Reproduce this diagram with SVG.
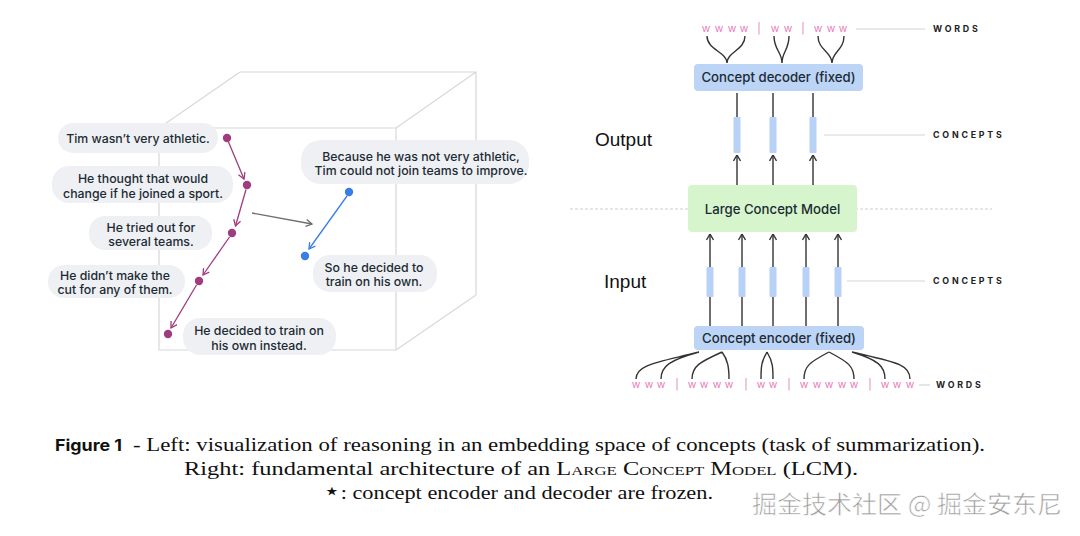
<svg xmlns="http://www.w3.org/2000/svg" width="1080" height="536" viewBox="0 0 1080 536">
<defs>
<style>
.cube{fill:none;stroke:#d8d8d8;stroke-width:1.2}
.bub{fill:#eef0f3}
.bt{font-family:Inter,"Noto Sans",sans-serif;font-size:12.3px;font-weight:500;fill:#1c2b33;text-anchor:middle}
.pa{stroke:#9e3c7e;stroke-width:1.3;fill:none;marker-end:url(#mp)}
.ba{stroke:#3a7de6;stroke-width:1.3;fill:none;marker-end:url(#mb)}
.ga{stroke:#6e6e6e;stroke-width:1.3;fill:none;marker-end:url(#mg)}
.pd{fill:#9e3c7e}
.bd{fill:#3a7de6}
.dk{stroke:#333;stroke-width:1.4;fill:none}
.da{stroke:#333;stroke-width:1.4;fill:none;marker-end:url(#md)}
.cb{fill:#b8d2f7}
.box{fill:#bcd4f6}
.lcm{fill:#d6f5cc}
.bx{font-family:Inter,"Noto Sans",sans-serif;font-size:13.2px;font-weight:500;fill:#1c2b33;text-anchor:middle}
.w{font-family:Inter,"Noto Sans",sans-serif;font-size:10.5px;fill:#e77ab8;text-anchor:middle}
.gl{stroke:#d4d4d4;stroke-width:1.2}
.lab{font-family:Inter,"Noto Sans",sans-serif;font-size:8.8px;font-weight:700;fill:#222;letter-spacing:2.8px}
.io{font-family:"Liberation Sans",Arial,sans-serif;font-size:19px;fill:#111}
.cap{font-family:"Liberation Serif","DejaVu Serif",serif;font-size:19px;fill:#111}
</style>
<marker id="mp" viewBox="0 0 8 8" refX="7" refY="4" markerWidth="8" markerHeight="8" markerUnits="userSpaceOnUse" orient="auto"><path d="M1,0.5 L7,4 L1,7.5" fill="none" stroke="#9e3c7e" stroke-width="1.3"/></marker>
<marker id="mb" viewBox="0 0 8 8" refX="7" refY="4" markerWidth="8" markerHeight="8" markerUnits="userSpaceOnUse" orient="auto"><path d="M1,0.5 L7,4 L1,7.5" fill="none" stroke="#3a7de6" stroke-width="1.3"/></marker>
<marker id="mg" viewBox="0 0 8 8" refX="7" refY="4" markerWidth="8" markerHeight="8" markerUnits="userSpaceOnUse" orient="auto"><path d="M1,0.5 L7,4 L1,7.5" fill="none" stroke="#6e6e6e" stroke-width="1.3"/></marker>
<marker id="md" viewBox="0 0 8 8" refX="7.5" refY="4" markerWidth="8" markerHeight="8" markerUnits="userSpaceOnUse" orient="auto"><path d="M1.5,0.5 L7.5,4 L1.5,7.5" fill="none" stroke="#333" stroke-width="1.4"/></marker>
</defs>
<rect width="1080" height="536" fill="#fff"/>

<g id="cube">
<path class="cube" d="M240,72 H476 V295 M159,128 L240,72 M396,128 L476,72 M396,350 L476,295 M159,128 H396 V350 H159 Z"/>
</g>

<g id="connectors">
<line class="pa" x1="228.5" y1="142" x2="244" y2="179"/>
<line class="pa" x1="246" y1="189.5" x2="235.5" y2="226"/>
<line class="pa" x1="229.5" y1="237" x2="203" y2="275"/>
<line class="pa" x1="196.5" y1="285" x2="171" y2="328"/>
<line class="ba" x1="347" y1="196" x2="309" y2="249"/>
<line class="ga" x1="252" y1="213" x2="312" y2="224"/>
</g>

<g id="s1"><rect class="bub" x="58" y="123" width="160" height="30" rx="15"/><text class="bt" x="138" y="142.5">Tim wasn’t very athletic.</text><circle class="pd" cx="227" cy="138" r="4.2"/></g>
<g id="s2"><rect class="bub" x="52" y="166" width="181" height="37" rx="17"/><text class="bt" x="143" y="182.5">He thought that would</text><text class="bt" x="143" y="197.5">change if he joined a sport.</text><circle class="pd" cx="247" cy="185" r="4.2"/></g>
<g id="s3"><rect class="bub" x="89" y="216" width="123" height="34" rx="16"/><text class="bt" x="151" y="231.5">He tried out for</text><text class="bt" x="151" y="245.5">several teams.</text><circle class="pd" cx="232" cy="233" r="4.2"/></g>
<g id="s4"><rect class="bub" x="48" y="265" width="137" height="33" rx="16"/><text class="bt" x="115" y="279.5">He didn’t make the</text><text class="bt" x="115" y="293.5">cut for any of them.</text><circle class="pd" cx="199" cy="281" r="4.2"/></g>
<g id="s5"><rect class="bub" x="183" y="318" width="153" height="37" rx="17"/><text class="bt" x="259" y="334.5">He decided to train on</text><text class="bt" x="259" y="349.5">his own instead.</text><circle class="pd" cx="168" cy="334" r="4.2"/></g>
<g id="s6"><rect class="bub" x="301" y="140" width="228" height="44" rx="20"/><text class="bt" x="421" y="160.5">Because he was not very athletic,</text><text class="bt" x="421" y="174.5">Tim could not join teams to improve.</text><circle class="bd" cx="349" cy="192" r="4.2"/></g>
<g id="s7"><rect class="bub" x="313" y="255" width="124" height="37" rx="17"/><text class="bt" x="374" y="271.5">So he decided to</text><text class="bt" x="374" y="285.5">train on his own.</text><circle class="bd" cx="305" cy="256" r="4.2"/></g>

<line x1="570" y1="209" x2="992" y2="209" stroke="#cfcfcf" stroke-width="1" stroke-dasharray="3,2"/>

<g id="arch-connectors">
<path class="dk" d="M707,36 C707,50 727,52 727,63 M745,36 C745,50 727,52 727,63 M774,36 C774,50 782,52 782,63 M789,36 C789,50 782,52 782,63 M818,36 C818,50 832,52 832,63 M844,36 C844,50 832,52 832,63"/>
<path class="dk" d="M737,93 V117 M773,93 V117 M813,93 V117"/>
<line class="da" x1="737" y1="185" x2="737" y2="155"/>
<line class="da" x1="773" y1="185" x2="773" y2="155"/>
<line class="da" x1="813" y1="185" x2="813" y2="155"/>
<line class="da" x1="710" y1="267" x2="710" y2="234"/>
<line class="da" x1="742" y1="267" x2="742" y2="234"/>
<line class="da" x1="773" y1="267" x2="773" y2="234"/>
<line class="da" x1="806" y1="267" x2="806" y2="234"/>
<line class="da" x1="838" y1="267" x2="838" y2="234"/>
<path class="dk" d="M710,297 V326 M742,297 V326 M773,297 V326 M806,297 V326 M838,297 V326"/>
<path class="dk" d="M699,352 C660,362 636,364 636,379 M699,352 C670,360 661,366 661,379 M722,352 C700,362 692,366 692,379 M722,352 C728,360 729,368 729,379 M767,352 C761,362 761,368 761,379 M767,352 C773,362 773,368 773,379 M829,352 C810,362 804,366 804,379 M829,352 C848,362 854,366 854,379 M852,352 C878,360 885,366 885,379 M852,352 C895,362 910,364 910,379"/>
<line class="gl" x1="856" y1="29" x2="925" y2="29"/>
<line class="gl" x1="824" y1="135" x2="925" y2="135"/>
<line class="gl" x1="847" y1="281" x2="925" y2="281"/>
<line class="gl" x1="919" y1="385" x2="930" y2="385"/>
</g>

<g id="words-top"><text class="w" x="706 719 732 744 759 775 788 803 818 831 843" y="32">wwww|ww|www</text><text class="lab" x="933" y="32">WORDS</text></g>
<g id="decoder"><rect class="box" x="694" y="64" width="169" height="27" rx="4"/><text class="bx" x="778.5" y="82">Concept decoder (fixed)</text></g>
<g id="concepts-out"><rect class="cb" x="733.5" y="117" width="7" height="36" rx="1"/><rect class="cb" x="769.5" y="117" width="7" height="36" rx="1"/><rect class="cb" x="809.5" y="117" width="7" height="36" rx="1"/><text class="lab" x="933" y="138">CONCEPTS</text></g>
<g id="output-label"><text class="io" x="595" y="146">Output</text></g>
<g id="lcm"><rect class="lcm" x="688" y="185" width="169" height="47" rx="4"/><text class="bx" x="772.5" y="214">Large Concept Model</text></g>
<g id="input-label"><text class="io" x="604" y="288">Input</text></g>
<g id="concepts-in"><rect class="cb" x="706.5" y="267" width="7" height="30" rx="1"/><rect class="cb" x="738.5" y="267" width="7" height="30" rx="1"/><rect class="cb" x="769.5" y="267" width="7" height="30" rx="1"/><rect class="cb" x="802.5" y="267" width="7" height="30" rx="1"/><rect class="cb" x="834.5" y="267" width="7" height="30" rx="1"/><text class="lab" x="933" y="284">CONCEPTS</text></g>
<g id="encoder"><rect class="box" x="694" y="326" width="170" height="24" rx="4"/><text class="bx" x="779" y="343">Concept encoder (fixed)</text></g>
<g id="words-bottom"><text class="w" x="636 649 661 677 692 704 717 729 746 761 773 789 804 817 829 842 854 870 885 897 910" y="388">www|wwww|ww|wwwww|www</text><text class="lab" x="936" y="388">WORDS</text></g>

<g id="caption">
<text x="55" y="451" font-family="Inter,'Noto Sans',sans-serif" font-weight="700" font-size="16px" fill="#111" textLength="67" lengthAdjust="spacingAndGlyphs">Figure 1</text>
<text class="cap" x="133" y="451" textLength="852" lengthAdjust="spacingAndGlyphs">- Left: visualization of reasoning in an embedding space of concepts (task of summarization).</text>
<text class="cap" x="184" y="475" textLength="674" lengthAdjust="spacingAndGlyphs">Right: fundamental architecture of an <tspan font-variant="small-caps">Large Concept Model</tspan> (LCM).</text>
<text class="cap" x="323" y="499" textLength="390" lengthAdjust="spacingAndGlyphs"><tspan font-family="'DejaVu Sans',sans-serif" font-size="24px">⋆</tspan>: concept encoder and decoder are frozen.</text>
<text x="752" y="513" font-family="'Noto Sans CJK SC',sans-serif" font-size="24px" fill="#9c9c9c" stroke="#ffffff" stroke-width="0.6" textLength="310" lengthAdjust="spacingAndGlyphs">掘金技术社区 @ 掘金安东尼</text>
</g>
</svg>
